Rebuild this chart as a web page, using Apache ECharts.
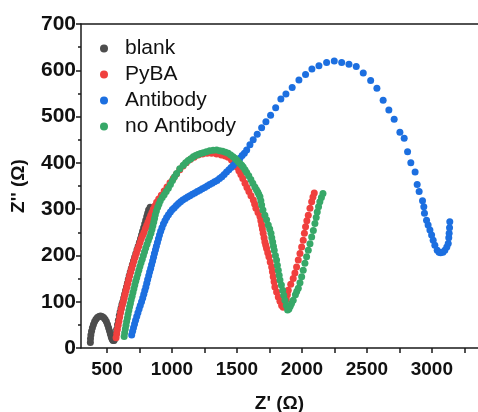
<!DOCTYPE html>
<html>
<head>
<meta charset="utf-8">
<script src="https://cdn.jsdelivr.net/npm/echarts@6.0.0/dist/echarts.min.js"></script>
<style>
html,body{margin:0;padding:0;background:#fff;}
#chart{width:478px;height:412px;}
</style>
</head>
<body>
<div id="chart"></div>
<script>
var seriesNames = ['blank', 'PyBA', 'Antibody', 'no Antibody'];
var seriesColors = ['#4d4d4d', '#f0403e', '#1c6fe0', '#37a868'];

var xLabelTicks = [500, 1000, 1500, 2000, 2500, 3000];
var xAllTicks = [500, 750, 1000, 1250, 1500, 1750, 2000, 2250, 2500, 2750, 3000, 3250];

var blankData = [
[372,12],[373,20],[376,28],[381,36],[388,44],[396,51],[405,57],[415,62],[426,66],[438,68],[450,69],[462,68],[474,66],[485,62],[495,57],[504,51],[512,44],[519,37],[526,30],[533,24],[540,19],[547,16],[554,16],
[560,20],[568,30],[574,40],[581,50],[588,60],[595,70],[601,78],[608,86],[615,94],[622,100],[629,108],[636,116],[643,124],[650,132],[657,140],[664,148],[671,156],[679,164],[687,172],[695,180],[704,188],[713,196],[722,204],[731,212],[740,220],[749,228],[758,236],[766,244],[774,252],[782,260],[790,268],[798,276],[806,284],[813,291],[820,298],[832,304]
];

var pybaData = [
[570,22],[575,31],[580,40],[586,49],[592,58],[598,67],[604,76],[611,85],[618,93],[625,100],[632,108],[639,116],[646,124],[653,132],[660,140],[667,148],[674,156],[682,164],[690,172],[698,180],[707,188],[716,196],[725,204],[734,212],[744,220],[754,228],[764,236],[774,243],[785,250],[796,258],[806,265],[816,272],[826,279],[836,286],[846,293],[856,300],[868,307],[882,315],[898,322],[918,330],
[940,339],[962,348],[985,357],[1010,366],[1035,376],[1060,385],[1085,393],[1110,400],[1140,407],[1170,412],[1202,417],[1235,419],[1270,421],[1305,421],[1344,419],[1380,417],[1410,415],[1433,412],[1458,406],[1480,399],[1500,391],[1515,383],[1530,375],[1545,366],[1562,356],[1577,347],[1592,338],[1608,329],[1626,320],[1636,311],[1646,302],[1662,293],[1677,284],[1684,275],[1690,266],[1696,257],[1702,248],[1709,238],[1715,229],[1722,222],[1728,215],[1737,206],[1746,197],[1756,186],[1767,175],[1773,165],[1779,154],[1786,143],[1792,132],[1805,121],[1818,110],[1831,101],[1844,92],[1856,88],[1868,92],
[1880,105],[1888,115],[1895,125],[1914,138],[1933,150],[1946,162],[1959,175],[1972,190],[1985,204],[1998,218],[2010,233],[2019,248],[2028,262],[2038,275],[2049,287],[2062,302],[2075,316],[2085,326],[2095,335]
];

var antibodyData = [
[690,28],[697,36],[704,44],[712,52],[720,60],[729,68],[738,76],[747,84],[756,92],[766,100],[775,108],[783,116],[791,124],[799,132],[806,140],[813,148],[821,156],[828,164],[836,172],[843,180],[851,188],[858,196],[865,204],[873,212],[880,220],[888,228],[896,236],[904,244],[913,252],[923,260],[934,268],[946,275],[959,282],[973,288],[988,294],[1003,299],[1018,303],[1034,308],[1050,312],[1066,316],[1083,320],
[1102,323],[1120,326],[1138,329],[1157,332],[1176,335],[1195,338],[1214,341],[1233,344],[1252,347],[1271,350],[1290,353],[1309,356],[1328,359],[1347,362],[1366,366],[1384,370],[1402,375],[1420,380],[1438,385],[1455,390],[1472,395],[1490,400],[1507,405],[1523,410],[1540,416],[1557,421],[1575,428],
[1600,439],[1625,450],[1656,462],[1690,476],[1723,489],[1759,503],[1798,519],[1838,538],[1877,549],[1925,563],[1977,579],[2028,591],[2077,603],[2131,610],[2190,617],[2249,620],[2306,617],[2362,613],[2418,608],[2472,594],[2529,578],[2577,561],[2625,535],[2669,514],[2710,494],[2754,466],[2787,453],[2813,424],[2838,400],[2871,380],[2887,353],[2902,338],[2928,318],[2938,305],[2943,291],[2959,276],[2971,266],[2985,255],[2998,244],[3010,233],[3023,222],[3041,211],[3055,207],[3067,206],[3085,207],[3100,211],[3115,218],[3126,226],[3130,238],[3133,248],[3136,260],[3138,273]
];

var noAntibodyData = [
[632,25],[636,33],[641,41],[646,49],[651,57],[657,65],[662,73],[668,81],[674,89],[680,96],[686,104],[693,112],[700,120],[707,128],[714,136],[721,144],[729,152],[737,160],[745,168],[753,176],[762,184],[771,192],[780,200],[789,208],[798,216],[808,224],[818,232],[828,240],[838,248],[846,256],[853,264],[860,272],[866,280],[872,288],[880,296],[890,304],[900,311],[910,318],[925,325],[940,331],[956,338],[972,345],[988,353],[1004,362],[1020,370],[1036,377],[1060,387],[1087,395],[1105,400],[1125,405],[1145,409],[1164,413],[1182,416],[1200,418],[1220,420],[1241,422],[1265,424],[1290,426],[1317,427],[1344,428],[1368,426],[1390,425],[1412,423],[1433,421],[1452,417],[1470,413],[1485,410],[1498,406],[1512,402],[1525,398],[1537,395],[1548,391],[1562,385],[1575,379],[1591,372],[1607,364],[1622,356],[1638,348],[1650,342],[1660,337],[1668,332],[1677,327],[1684,318],[1690,309],[1700,298],[1715,287],[1728,277],[1741,266],[1752,257],[1762,248],[1768,238],[1775,229],[1781,220],[1787,211],[1796,200],[1805,190],[1811,179],[1818,168],[1825,157],[1831,147],[1842,136],[1852,125],[1860,114],[1869,103],[1880,92],[1890,82],[1900,84],[1910,90],[1920,96],[1933,103],[1950,115],[1960,122],[1972,129],[1985,141],[1998,154],[2010,168],[2023,183],[2036,197],[2049,211],[2062,225],[2075,240],[2088,254],[2100,269],[2110,282],[2118,294],[2128,305],[2138,316],[2150,325],[2162,334]
];

var allData = [blankData, pybaData, antibodyData, noAntibodyData];

var FONT = 'Arial, "Liberation Sans", sans-serif';
var axisLineStyle = { color: '#1a1a1a', width: 1.5 };

var chart = echarts.init(document.getElementById('chart'), null, { renderer: 'canvas' });
chart.setOption({
  animation: false,
  backgroundColor: '#ffffff',
  grid: { left: 81, right: 0, top: 24, bottom: 64, containLabel: false, outerBoundsMode: 'none' },
  legend: {
    data: seriesNames,
    orient: 'vertical',
    left: 100,
    top: 38,
    itemWidth: 32,
    itemHeight: 8,
    itemGap: 5,
    icon: 'circle',
    padding: 0,
    textStyle: { fontSize: 21, color: '#111', fontFamily: FONT }
  },
  xAxis: [
    {
      type: 'value', min: 300, max: 3355, position: 'bottom',
      name: "Z' (Ω)", nameLocation: 'middle', nameGap: 46,
      nameTextStyle: { fontSize: 19, fontWeight: 'bold', color: '#111', fontFamily: FONT },
      axisLine: { show: true, onZero: false, lineStyle: axisLineStyle },
      axisTick: { show: true, inside: false, length: 5, customValues: xAllTicks, lineStyle: axisLineStyle },
      axisLabel: { customValues: xLabelTicks, formatter: function (v) { return String(v); }, fontSize: 19, fontWeight: 'bold', color: '#111', margin: 12, fontFamily: FONT },
      splitLine: { show: false }
    },
    {
      type: 'value', min: 300, max: 3355, position: 'top',
      axisLine: { show: true, onZero: false, lineStyle: axisLineStyle },
      axisTick: { show: false }, axisLabel: { show: false }, splitLine: { show: false }
    }
  ],
  yAxis: {
    type: 'value', min: 0, max: 700, interval: 100,
    name: "Z'' (Ω)", nameLocation: 'middle', nameGap: 53,
    nameTextStyle: { fontSize: 19, fontWeight: 'bold', color: '#111', fontFamily: FONT },
    axisLine: { show: true, onZero: false, lineStyle: axisLineStyle },
    axisTick: { show: true, inside: false, length: 5, lineStyle: axisLineStyle },
    minorTick: { show: true, splitNumber: 2, length: 3, lineStyle: axisLineStyle },
    axisLabel: { fontSize: 21, fontWeight: 'bold', color: '#111', margin: 5, fontFamily: FONT },
    splitLine: { show: false }
  },
  series: seriesNames.map(function (n, i) {
    return {
      name: n, type: 'scatter', xAxisIndex: 0, yAxisIndex: 0,
      data: allData[i], symbol: 'circle', symbolSize: 7,
      itemStyle: { color: seriesColors[i], opacity: 1 },
      emphasis: { disabled: true }
    };
  })
});
</script>
</body>
</html>
